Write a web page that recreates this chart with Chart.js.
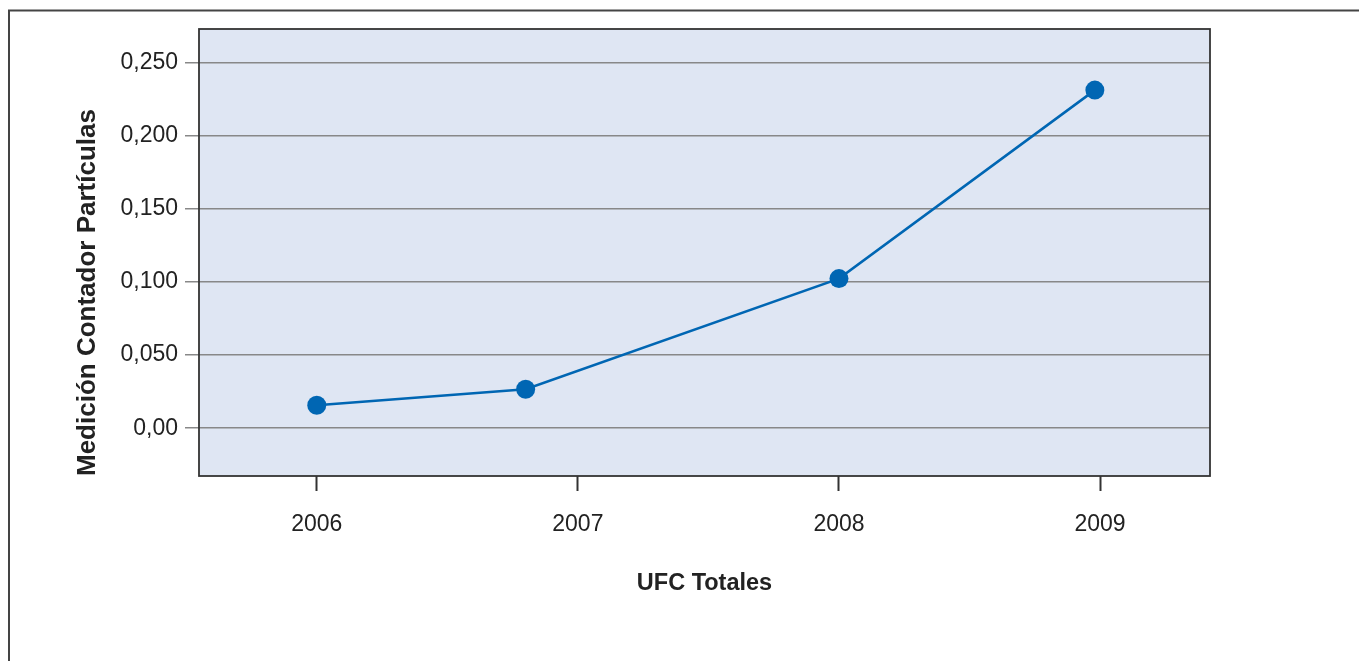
<!DOCTYPE html>
<html>
<head>
<meta charset="utf-8">
<script src="https://cdn.jsdelivr.net/npm/chart.js@4/dist/chart.umd.min.js"></script>
<style>
  body { margin: 0; background: #fff; }
  #wrap { width: 1359px; height: 661px; }
</style>
</head>
<body>
<div id="wrap"><canvas id="chart" width="1359" height="661"></canvas></div>
<script>
// values
const pointYears = [2006, 2006.8, 2008, 2008.98];
const pointValues = [0.0157, 0.0266, 0.1023, 0.2312];
const xTickYears = [2006, 2007, 2008, 2009];
const xTickLabels = ['2006', '2007', '2008', '2009'];
const yTickValues = [0, 0.05, 0.1, 0.15, 0.2, 0.25];
const yTickLabels = ['0,00', '0,050', '0,100', '0,150', '0,200', '0,250'];

const FONT = "'Liberation Sans', Arial, Helvetica, sans-serif";
const BLUE = '#0066b3';

const framePlugin = {
    id: 'frame',
    beforeDraw(chart) {
        const { ctx, chartArea: a } = chart;
        ctx.save();
        ctx.fillStyle = '#dfe6f3';
        ctx.fillRect(a.left, a.top, a.right - a.left, a.bottom - a.top);
        ctx.restore();
    },
    afterDraw(chart) {
        const { ctx, chartArea: a } = chart;
        ctx.save();
        ctx.strokeStyle = '#333';
        ctx.lineWidth = 1.8;
        ctx.strokeRect(a.left, a.top, a.right - a.left, a.bottom - a.top);
        // outer page frame (left and top edges)
        ctx.strokeStyle = '#444';
        ctx.lineWidth = 2;
        ctx.beginPath();
        ctx.moveTo(9, 661);
        ctx.lineTo(9, 10.5);
        ctx.lineTo(1359, 10.5);
        ctx.stroke();
        ctx.restore();
    }
};

new Chart(document.getElementById('chart').getContext('2d'), {
    type: 'line',
    data: {
        datasets: [{
            data: pointYears.map((x, i) => ({ x, y: pointValues[i] })),
            borderColor: BLUE,
            backgroundColor: BLUE,
            borderWidth: 2.5,
            pointRadius: 9.5,
            pointBorderWidth: 0,
            pointBackgroundColor: BLUE,
            tension: 0,
            clip: false
        }]
    },
    options: {
        responsive: false,
        animation: false,
        layout: { padding: { top: 29, left: 68, right: 149, bottom: 59 } },
        plugins: { legend: { display: false }, tooltip: { enabled: false } },
        scales: {
            x: {
                type: 'linear',
                min: 2005.549,
                max: 2009.421,
                afterBuildTicks: s => { s.ticks = xTickYears.map(v => ({ value: v })); },
                afterFit: s => { s.height = 126; },
                grid: { drawOnChartArea: false, drawTicks: true, tickLength: 15, tickColor: '#333', tickWidth: 2 },
                border: { display: false },
                ticks: {
                    padding: 20,
                    color: '#222',
                    font: { family: FONT, size: 23 },
                    callback: v => xTickLabels[xTickYears.indexOf(v)]
                },
                title: {
                    display: true,
                    text: 'UFC Totales',
                    color: '#222',
                    font: { family: FONT, size: 23.5, weight: 'bold' }
                }
            },
            y: {
                min: -0.0327,
                max: 0.273,
                afterBuildTicks: s => { s.ticks = yTickValues.map(v => ({ value: v })); },
                afterFit: s => { s.width = 131; },
                grid: { color: '#888', lineWidth: 1.5, drawTicks: true, tickLength: 14, tickColor: '#888', tickWidth: 1.5 },
                border: { display: false },
                ticks: {
                    padding: 7,
                    color: '#222',
                    font: { family: FONT, size: 23 },
                    callback: v => yTickLabels[yTickValues.findIndex(t => Math.abs(t - v) < 1e-9)]
                },
                title: {
                    display: true,
                    align: 'start',
                    text: 'Medición Contador Partículas',
                    color: '#222',
                    font: { family: FONT, size: 26, weight: 'bold' }
                }
            }
        }
    },
    plugins: [framePlugin]
});
</script>
</body>
</html>
